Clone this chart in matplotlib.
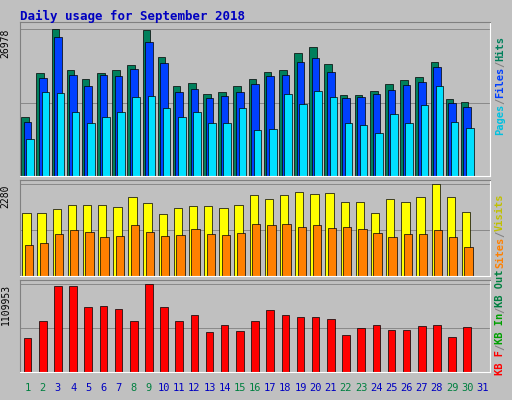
import matplotlib
matplotlib.use("Agg")
import matplotlib.pyplot as plt
import numpy as np

days = list(range(1, 32))
hits = [10903,18850,26978,19404,17741,18850,19404,20328,26796,21806,16447,17002,14969,15338,16447,17741,19034,19404,22546,23654,20513,14784,14784,15523,16817,17556,18110,20882,14045,13675]
files = [9979,17926,25502,18480,16447,18480,18295,19589,24578,20698,15338,15893,14230,14599,15338,16817,18295,18480,20882,21622,19034,14230,14414,14969,15708,16632,17186,19958,13490,12751]
pages = [6838,15338,15154,11827,9794,10903,11827,14414,14599,12566,10903,11827,9794,9794,12566,8501,8686,14969,13306,15523,14414,9794,9425,7946,11458,9794,13121,16447,9979,8870]
visits = [1553,1553,1653,1754,1754,1754,1703,1954,1804,1528,1678,1728,1728,1678,1754,2004,1904,2004,2079,2029,2054,1829,1829,1553,1904,1829,1954,2280,1954,1578]
sites = [777,827,1052,1152,1102,977,1002,1253,1102,1002,1027,1177,1052,1027,1077,1278,1253,1278,1227,1253,1202,1227,1177,1077,977,1052,1052,1152,977,726]
kbytes = [425898,645300,1084104,1084104,825984,838890,800172,645300,1109953,825984,645300,722736,503334,593676,516240,645300,787266,722736,696924,696924,671112,464616,554958,593676,529146,529146,580770,593676,438804,567864]
weekend = {1,2,8,9,15,16,22,23,29,30}

W, H = 512, 400
fig = plt.figure(figsize=(5.12, 4.0), dpi=100, facecolor="#C0C0C0")
mono = "DejaVu Sans Mono"

def ax_at(x0, y0, x1, y1):
    a = fig.add_axes([x0 / W, 1 - y1 / H, (x1 - x0) / W, (y1 - y0) / H])
    a.set_facecolor("#C0C0C0")
    a.set_xlim(0.5, 31.5)
    a.set_xticks([])
    a.set_yticks([])
    for s in ["top", "left"]:
        a.spines[s].set_color("#808080")
    for s in ["bottom", "right"]:
        a.spines[s].set_color("white")
    return a

fig.text(20 / W, 1 - 16 / H, "Daily usage for September 2018", color="#0000C0",
         fontsize=9, fontweight="bold", family=mono, va="center")

x = np.arange(1, 31)

def grid(a, vmax):
    a.axhline(vmax, color="#808080", lw=0.6, zorder=0)
    a.axhline(vmax / 2, color="#808080", lw=0.6, zorder=0)

a1 = ax_at(20, 22, 490, 176)
a1.set_ylim(0, 26978 * 153 / 146)
grid(a1, 26978)
a1.bar(x - 0.17, hits, 0.5, color="#00805C", edgecolor="black", lw=0.5)
a1.bar(x, files, 0.5, color="#0040FF", edgecolor="black", lw=0.5)
a1.bar(x + 0.17, pages, 0.5, color="#00E0FF", edgecolor="black", lw=0.5)

a2 = ax_at(20, 180, 490, 276)
a2.set_ylim(0, 2280 * 95 / 91)
grid(a2, 2280)
a2.bar(x - 0.08, visits, 0.55, color="#FFFF00", edgecolor="black", lw=0.5)
a2.bar(x + 0.08, sites, 0.55, color="#FF8000", edgecolor="black", lw=0.5)

a3 = ax_at(20, 280, 490, 372)
a3.set_ylim(0, 1109953 * 90 / 86)
grid(a3, 1109953)
a3.bar(x, kbytes, 0.5, color="#FF0000", edgecolor="black", lw=0.5)

for a, lab in [(a1, "26978"), (a2, "2280"), (a3, "1109953")]:
    ymax = float(lab)
    a.text(-0.02, ymax, lab, transform=a.get_yaxis_transform(), rotation=90,
           ha="right", va="top", fontsize=7, family=mono)

for d in days:
    fig.text((20 + (d - 0.5) * 470 / 31) / W, 1 - 388 / H, str(d),
             color="#008040" if d in weekend else "#0000C0",
             fontsize=7.5, family=mono, ha="center", va="center")

def side_up(parts, ybot):
    y = ybot
    for txt, col in parts:
        fig.text(500 / W, 1 - y / H, txt, color=col, rotation=90, fontsize=7.5,
                 family=mono, fontweight="bold", ha="center", va="bottom")
        y -= len(txt) * 6.2

side_up([("Pages", "#00C0E0"), ("/", "#808080"), ("Files", "#0040FF"), ("/", "#808080"), ("Hits", "#00805C")], 135)
side_up([("Sites", "#FF8000"), ("/", "#808080"), ("Visits", "#C0C000")], 268)
side_up([("KB F", "#FF0000"), ("/", "#808080"), ("KB In", "#00A000"), ("/", "#808080"), ("KB Out", "#008040")], 375)

fig.savefig("out.png", dpi=100, facecolor=fig.get_facecolor())
